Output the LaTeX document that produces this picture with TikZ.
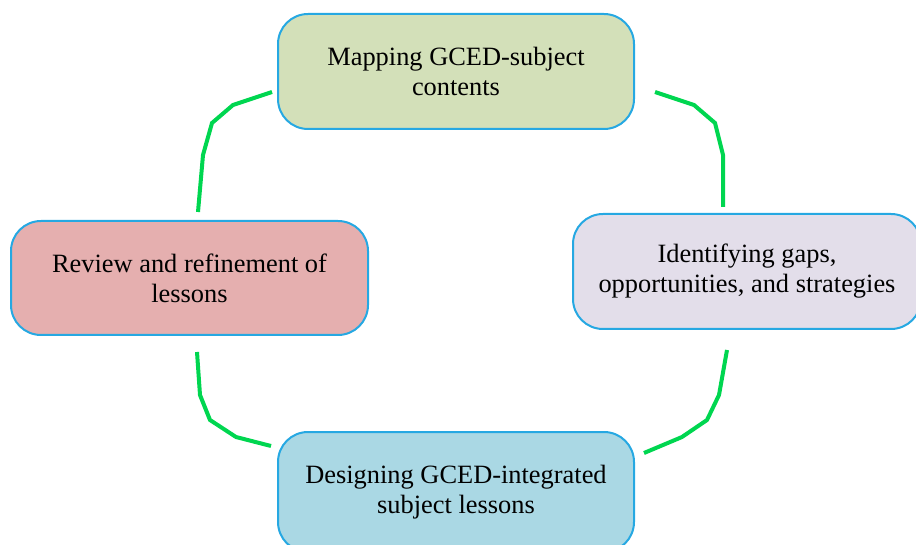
\documentclass[tikz,border=0pt]{standalone}
\usepackage{fontspec}
\setmainfont{Liberation Serif}
\definecolor{boxline}{RGB}{38,168,226}
\definecolor{linkgreen}{RGB}{0,214,80}
\definecolor{mapfill}{RGB}{211,224,185}
\definecolor{gapfill}{RGB}{227,222,234}
\definecolor{reviewfill}{RGB}{229,175,175}
\definecolor{designfill}{RGB}{170,216,228}

\begin{document}
\begin{tikzpicture}[x=0.5pt, y=-0.5pt,
    box/.style={draw=boxline, line width=1pt, rounded corners=15pt, align=center,
        font=\fontsize{13.2}{15}\selectfont, inner sep=0pt},
    link/.style={draw=linkgreen, line width=2pt}]
    \useasboundingbox (0,0) rectangle (916,545);
    \clip (0,0) rectangle (916,545);

    \node[box, fill=mapfill, minimum width=178pt, minimum height=57.5pt] (map) at (456,71.5) {Mapping GCED-subject\\contents};
    \node[box, fill=gapfill, minimum width=174pt, minimum height=57.5pt] (gaps) at (747,271.5) {Identifying gaps,\\opportunities, and strategies};
    \node[box, fill=reviewfill, minimum width=178.5pt, minimum height=57pt] (review) at (189.5,278) {Review and refinement of\\lessons};
    \node[box, fill=designfill, minimum width=178pt, minimum height=60pt] (design) at (456,492) {Designing GCED-integrated\\subject lessons};

    \coordinate (tl1) at (272,92);
    \coordinate (tl2) at (198,212);
    \coordinate (tr1) at (655,92);
    \coordinate (tr2) at (723,207);
    \coordinate (br1) at (727,350);
    \coordinate (br2) at (644,453);
    \coordinate (bl1) at (197,352);
    \coordinate (bl2) at (271,446);

    \draw[link] (tl1) -- (233,105) -- (212,123) -- (203,155) -- (tl2);
    \draw[link] (tr1) -- (694,105) -- (715,123) -- (723,155) -- (tr2);
    \draw[link] (br1) -- (719,395) -- (707,420) -- (682,437) -- (br2);
    \draw[link] (bl1) -- (200,395) -- (210,420) -- (236,437) -- (bl2);
\end{tikzpicture}
\end{document}
